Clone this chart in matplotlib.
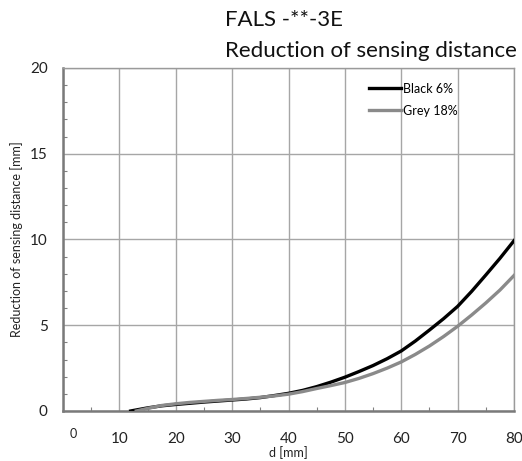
import matplotlib.pyplot as plt
from matplotlib.transforms import ScaledTranslation

plt.rcParams["font.family"] = ["Lato", "DejaVu Sans"]

# curve readings (d in mm, reduction in mm)
black_d = [12, 15, 17.5, 20, 22.5, 25, 27.5, 30, 32.5, 35, 37.5, 40, 42.5, 45, 47.5,
           50, 52.5, 55, 57.5, 60, 62.5, 65, 67.5, 70, 72.5, 75, 77.5, 80]
black_red = [0, 0.18, 0.3, 0.38, 0.45, 0.52, 0.58, 0.64, 0.7, 0.78, 0.9, 1.03, 1.2, 1.42, 1.68,
             1.97, 2.3, 2.65, 3.05, 3.5, 4.08, 4.72, 5.38, 6.1, 6.98, 7.93, 8.9, 9.93]
grey_d = [13, 15, 17.5, 20, 22.5, 25, 27.5, 30, 32.5, 35, 37.5, 40, 42.5, 45, 47.5,
          50, 52.5, 55, 57.5, 60, 62.5, 65, 67.5, 70, 72.5, 75, 77.5, 80]
grey_red = [0, 0.15, 0.32, 0.42, 0.5, 0.56, 0.62, 0.67, 0.73, 0.8, 0.88, 0.98, 1.13, 1.31, 1.48,
            1.66, 1.9, 2.18, 2.5, 2.86, 3.3, 3.79, 4.34, 4.94, 5.6, 6.3, 7.05, 7.9]

x_ticks = [0, 10, 20, 30, 40, 50, 60, 70, 80]
y_ticks = [0, 5, 10, 15, 20]

fig = plt.figure(figsize=(5.22, 4.61), dpi=100)
ax = fig.add_axes([0.1207, 0.1085, 0.864, 0.744])

ax.plot(black_d, black_red, color="black", lw=2.4, label="Black 6%", zorder=3)
ax.plot(grey_d, grey_red, color="#8a8a8a", lw=2.4, label="Grey 18%", zorder=3)

ax.set_xlim(0, 80)
ax.set_ylim(0, 20)
ax.set_xticks(x_ticks)
ax.set_yticks(y_ticks)
ax.set_xticks(range(5, 80, 10), minor=True)
ax.set_yticks([v for v in range(1, 20) if v % 5], minor=True)

ax.grid(True, which="major", color="#a6a6a6", lw=1.0)
ax.tick_params(which="major", length=0, labelsize=11, colors="#222222")
ax.tick_params(axis="x", which="major", pad=15)
ax.tick_params(axis="y", which="major", pad=11)
ax.tick_params(which="minor", direction="in", length=3, width=0.8, color="#808080")

for sp in ax.spines.values():
    sp.set_color("#9a9a9a")
    sp.set_linewidth(1.0)
for side in ("left", "bottom"):
    ax.spines[side].set_color("#7a7a7a")
    ax.spines[side].set_linewidth(1.8)

# the "0" on the x axis sits a bit right, higher and smaller in the original
lbl0 = ax.get_xticklabels()[0]
lbl0.set_fontsize(9)
lbl0.set_transform(lbl0.get_transform() + ScaledTranslation(0.1, 0.04, fig.dpi_scale_trans))

ax.set_xlabel("d [mm]", fontsize=9, labelpad=0, color="#222222")
ax.set_ylabel("Reduction of sensing distance [mm]", fontsize=9, labelpad=5, color="#222222")

ax.legend(loc="upper right", bbox_to_anchor=(0.90, 0.99), frameon=False, fontsize=9,
          handlelength=2.6, handletextpad=0.15, labelspacing=0.8)

fig.text(0.431, 0.957, "FALS -**-3E", fontsize=16, ha="left", va="center", color="#111111")
fig.text(0.431, 0.889, "Reduction of sensing distance", fontsize=16, ha="left", va="center",
         color="#111111")

fig.savefig("out.png", dpi=100)
